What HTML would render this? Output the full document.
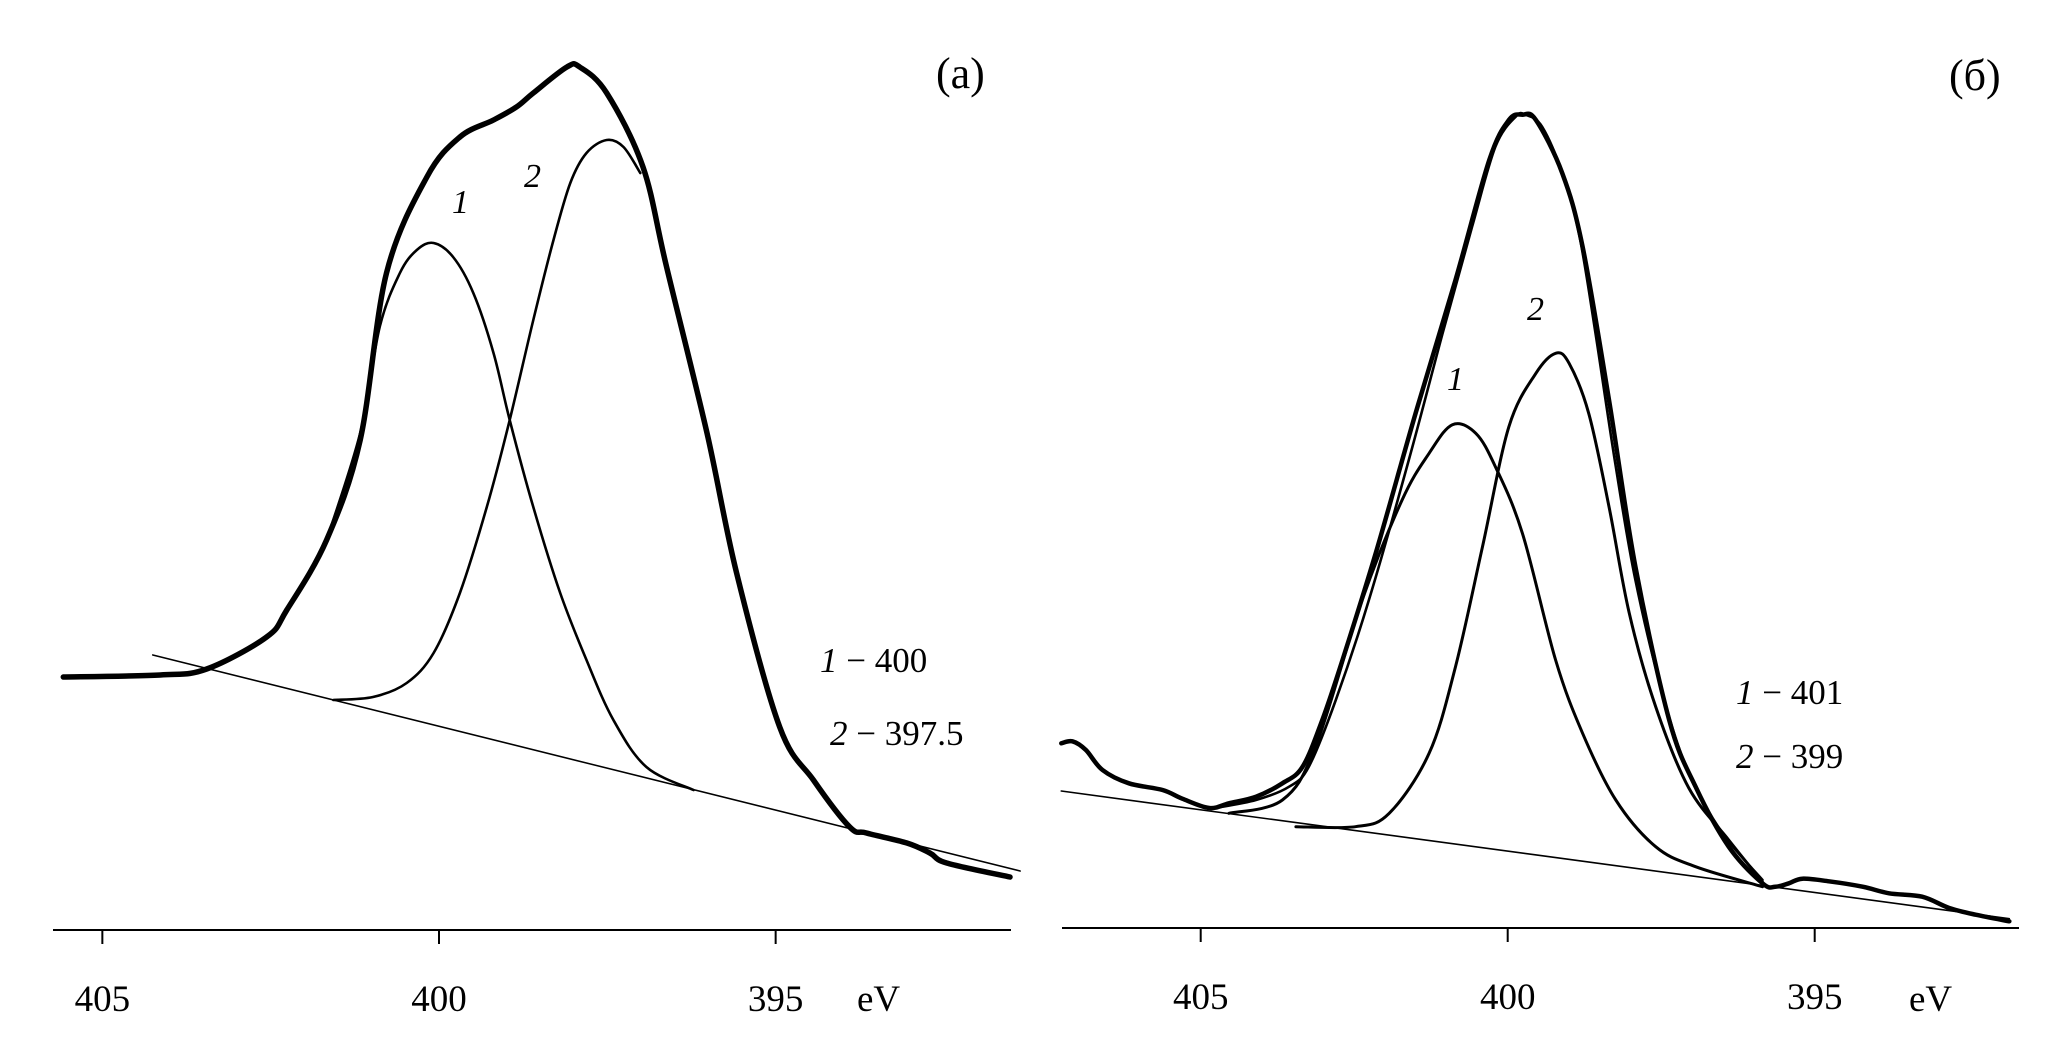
<!DOCTYPE html>
<html><head><meta charset="utf-8"><style>
html,body{margin:0;padding:0;background:#fff;}
svg{display:block;}
text{font-family:"Liberation Serif",serif;fill:#000;}
</style></head><body>
<svg id="chart" width="2058" height="1037" viewBox="0 0 2058 1037" xmlns="http://www.w3.org/2000/svg"></svg>
<script>
// ---------- Panel (a) data ----------
const tickLabelsA = [405, 400, 395];
const envA_E = [405.58,404.14,403.45,402.56,402.26,401.67,401.17,400.78,400.18,399.69,399.19,398.85,398.60,398.10,397.91,397.51,396.97,396.62,396.02,395.58,394.94,394.44,393.90,393.65,393.05,392.71,392.46,391.52];
const envA_I = [253,255,261,293,320,390,490,657,753,793,810,823,837,863,863,837,763,663,497,357,203,150,103,97,87,77,67,53];
const pk1A_E = [401.67,401.17,400.88,400.58,400.33,400.08,399.79,399.49,399.19,398.95,398.60,398.20,397.81,397.41,396.92,396.22];
const pk1A_I = [390,497,603,657,680,687,673,637,577,510,423,337,270,210,163,140];
const pk2A_E = [401.57,400.98,400.48,400.08,399.69,399.29,398.95,398.60,398.30,398.05,397.81,397.51,397.26,397.01];
const pk2A_I = [230,233,247,277,337,423,510,610,690,747,777,790,783,757];
const bgA_E = [404.25,391.37];
const bgA_I = [275,59];

// ---------- Panel (б) data ----------
const tickLabelsB = [405, 400, 395];
const envB_E = [407.27,407.09,406.87,406.60,406.17,405.62,405.30,404.86,404.54,404.10,403.67,403.34,403.02,402.69,402.15,401.50,400.85,400.30,399.98,399.76,399.54,399.11,398.78,398.35,397.92,397.37,396.94,396.40,395.85,395.64,395.42,395.20,394.77,394.22,393.79,393.25,392.81,392.38,391.83];
const envB_I = [184.7,186.7,178,158,144.7,138,129.3,120,124.7,131.3,144.7,161.3,208,268,374.7,514.7,648,768,808,813.3,808,754.7,681.3,528,361.3,208,141.3,81.3,44.7,41.3,44.7,49.3,46.7,41.3,34.7,31.3,20,13.3,6.7];
const fitB_E = [404.76,404.10,403.56,403.24,402.80,402.26,401.61,401.06,400.58,400.20,399.87,399.71,399.44,399.11,398.84,398.57,398.24,397.92,397.48,397.05,396.50,395.85];
const fitB_I = [120,128,141.3,161.3,228,328,468,594.7,701.3,781.3,811.3,813.3,801.3,754.7,694.7,594.7,461.3,348,234.7,154.7,94.7,48];
const pk1B_E = [404.54,403.67,403.13,402.37,401.72,401.28,400.90,400.52,400.20,399.76,399.22,398.78,398.24,397.59,396.94,395.85];
const pk1B_I = [114.7,128,181.3,328,428,474.7,503.3,494.7,461.3,394.7,268,194.7,128,81.3,61.3,41.3];
const pk2B_E = [403.45,402.48,401.93,401.28,400.85,400.41,399.98,399.54,399.22,399.00,398.68,398.35,398.02,397.59,397.05,396.40,395.85];
const pk2B_I = [101.3,101.3,114.7,174.7,261.3,381.3,501.3,554.7,574.7,564.7,514.7,421.3,314.7,221.3,140,88,46];
const bgB_E = [407.27,391.83];
const bgB_I = [137,9.3];

const NS = "http://www.w3.org/2000/svg";
const svg = document.getElementById('chart');
function mk(tag, attrs, parent){const e=document.createElementNS(NS,tag);for(const k in attrs)e.setAttribute(k,attrs[k]);(parent||svg).appendChild(e);return e;}

const panelA = {x400:439, pxPerEv:67.33, y0:930, axisX1:53, axisX2:1011};
const panelB = {x400:1507.7, pxPerEv:61.4, y0:928, axisX1:1062, axisX2:2019};
function xs(p,E){return p.x400+(400-E)*p.pxPerEv;}
function ys(p,I){return p.y0-I;}

function smoothPath(pts){
  let d='M'+pts[0][0].toFixed(1)+','+pts[0][1].toFixed(1);
  for(let i=0;i<pts.length-1;i++){
    const p0=pts[i-1]||pts[i],p1=pts[i],p2=pts[i+1],p3=pts[i+2]||p2;
    const c1=[p1[0]+(p2[0]-p0[0])/6,p1[1]+(p2[1]-p0[1])/6];
    const c2=[p2[0]-(p3[0]-p1[0])/6,p2[1]-(p3[1]-p1[1])/6];
    d+='C'+c1[0].toFixed(1)+','+c1[1].toFixed(1)+' '+c2[0].toFixed(1)+','+c2[1].toFixed(1)+' '+p2[0].toFixed(1)+','+p2[1].toFixed(1);
  }
  return d;
}
function curve(p,E,I,w,name){
  const pts=E.map((e,i)=>[xs(p,e),ys(p,I[i])]);
  const el=mk('path',{d:smoothPath(pts),fill:'none',stroke:'#000','stroke-width':w,'stroke-linejoin':'round','stroke-linecap':'round'});
  
  
}
function axis(p,ticks,prefix){
  const ax=mk('line',{x1:p.axisX1,x2:p.axisX2,y1:p.y0,y2:p.y0,stroke:'#000','stroke-width':2});
  
  
  ticks.forEach(t=>{
    const x=xs(p,t);
    const tk=mk('line',{x1:x,x2:x,y1:p.y0,y2:p.y0+14,stroke:'#000','stroke-width':2});
    
    
    const tl=mk('text',{x:x,y:p.y0+81,'font-size':37,'text-anchor':'middle'});
    tl.textContent=t;
    
    
  });
}
function txt(x,y,s,size,name,italic){
  const t=mk('text',{x:x,y:y,'font-size':size});
  if(italic)t.setAttribute('font-style','italic');
  t.textContent=s;
  
  
  return t;
}
function legendLine(x,y,num,val,name){
  const t=mk('text',{x:x,y:y,'font-size':35});
  const a=document.createElementNS(NS,'tspan');a.setAttribute('font-style','italic');a.textContent=num;t.appendChild(a);
  const b=document.createElementNS(NS,'tspan');b.textContent=' \u2212 '+val;t.appendChild(b);
  
  
}

// Panel a
axis(panelA,tickLabelsA,'panel-a');
curve(panelA,bgA_E,bgA_I,1.6,'panel-a-background-line');
curve(panelA,pk1A_E,pk1A_I,2.6,'panel-a-peak-1');
curve(panelA,pk2A_E,pk2A_I,2.6,'panel-a-peak-2');
curve(panelA,envA_E,envA_I,5.5,'panel-a-envelope');
txt(857,1011,'eV',37,'panel-a-x-unit');
txt(936,88,'(a)',44,'panel-a-label');
txt(452,213,'1',34,'panel-a-peak-1-label',true);
txt(524,187,'2',34,'panel-a-peak-2-label',true);
legendLine(820,672,'1','400','panel-a-legend-1');
legendLine(830,745,'2','397.5','panel-a-legend-2');

// Panel b
axis(panelB,tickLabelsB,'panel-b');
curve(panelB,bgB_E,bgB_I,1.6,'panel-b-background-line');
curve(panelB,pk1B_E,pk1B_I,3,'panel-b-peak-1');
curve(panelB,pk2B_E,pk2B_I,3,'panel-b-peak-2');
curve(panelB,fitB_E,fitB_I,2.6,'panel-b-fit-sum');
curve(panelB,envB_E,envB_I,4.5,'panel-b-envelope');
txt(1909,1011,'eV',37,'panel-b-x-unit');
txt(1949,90,'(\u0431)',44,'panel-b-label');
txt(1447,390,'1',34,'panel-b-peak-1-label',true);
txt(1527,320,'2',34,'panel-b-peak-2-label',true);
legendLine(1736,704,'1','401','panel-b-legend-1');
legendLine(1736,768,'2','399','panel-b-legend-2');
</script>
</body></html>
